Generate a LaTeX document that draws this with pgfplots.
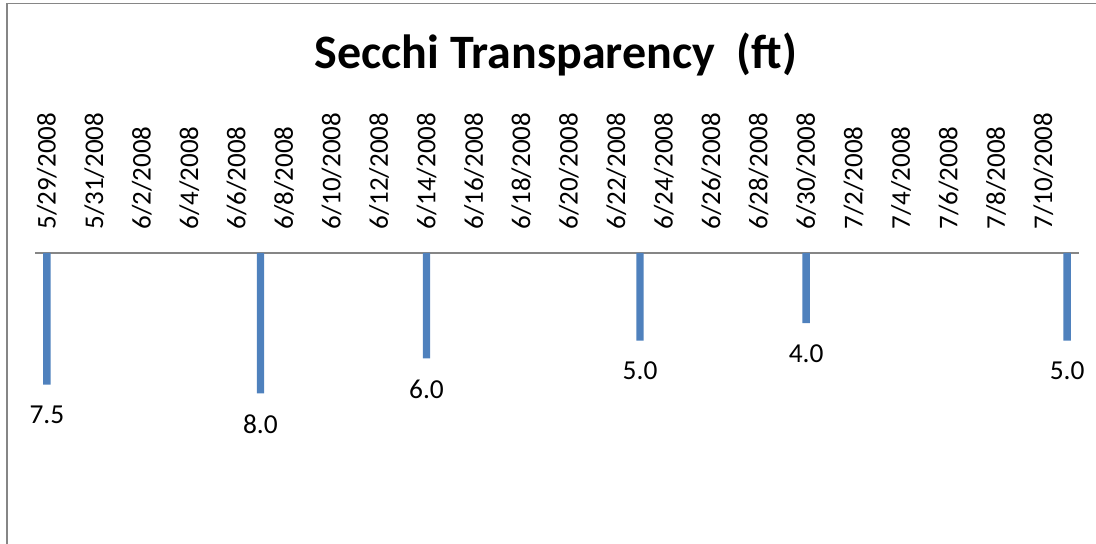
\documentclass[border=0pt]{standalone}
\usepackage{pgfplots}
\pgfplotsset{compat=1.18}
\usepackage{fontspec}
\setmainfont{Carlito}
\definecolor{barblue}{HTML}{4F81BD}
\definecolor{framegray}{HTML}{868686}
\begin{document}
\begin{tikzpicture}
\useasboundingbox (0,0) rectangle (548pt,-272pt);
\draw[framegray, line width=0.75pt] (3.4pt,-290pt) -- (3.4pt,-1.7pt) -- (570pt,-1.7pt);
\node[anchor=base, font=\bfseries\fontsize{24}{28}\selectfont, inner sep=0pt] at (278pt,-34.15pt) {Secchi Transparency\ \ (ft)};
\begin{axis}[
  at={(17.5pt,-126.5pt)}, anchor=north west,
  width=522pt, height=140.4pt, scale only axis,
  xmin=-0.5, xmax=43.5, ymin=0, ymax=16,
  y dir=reverse,
  axis x line=top, axis y line=none,
  x axis line style={-, draw=framegray, line width=0.7pt},
  xtick={0,2,...,42},
  xticklabels={5/29/2008,5/31/2008,6/2/2008,6/4/2008,6/6/2008,6/8/2008,6/10/2008,6/12/2008,6/14/2008,6/16/2008,6/18/2008,6/20/2008,6/22/2008,6/24/2008,6/26/2008,6/28/2008,6/30/2008,7/2/2008,7/4/2008,7/6/2008,7/8/2008,7/10/2008},
  major tick length=0pt,
  xticklabel style={yshift=11.5pt, rotate=90, anchor=west, inner sep=0pt, font=\fontsize{13.5}{16}\selectfont},
  ytick=\empty,
  clip=false,
  /pgf/number format/assume math mode=true,
  ybar, bar width=3.65pt,
  nodes near coords={\pgfmathprintnumber[fixed, fixed zerofill, precision=1]{\pgfplotspointmeta}},
  every node near coord/.append style={anchor=north, yshift=-10.5pt, inner sep=0pt, font=\fontsize{13.7}{16}\selectfont, text=black},
]
\addplot[fill=barblue, draw=none] coordinates {(0,7.5) (9,8.0) (16,6.0) (25,5.0) (32,4.0) (43,5.0)};
\end{axis}
\end{tikzpicture}
\end{document}
